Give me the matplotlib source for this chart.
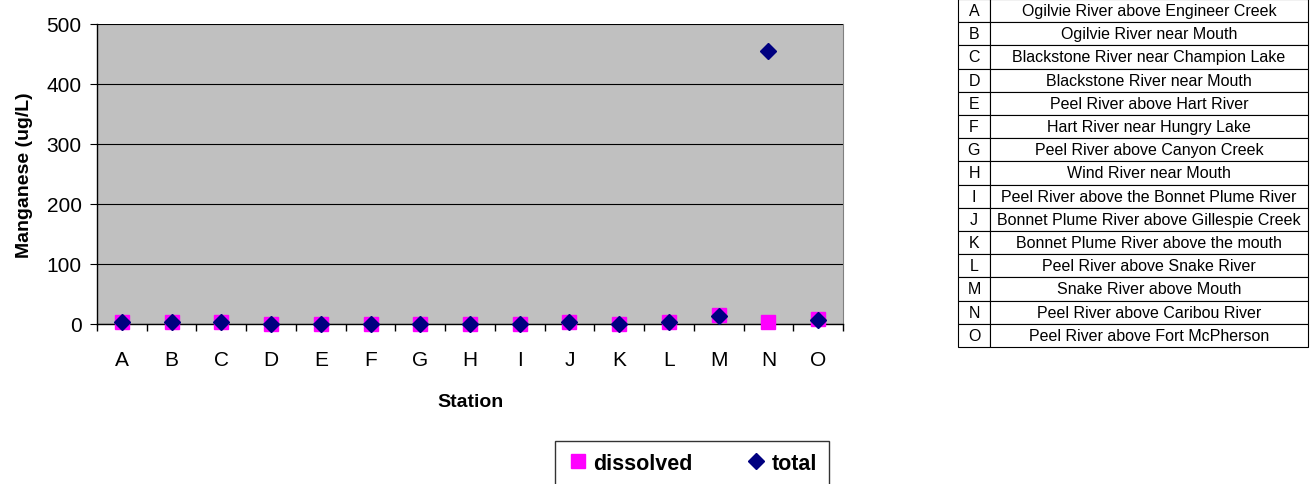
import matplotlib
matplotlib.use('Agg')
from matplotlib import pyplot as plt

plt.rcParams['font.family'] = ['Liberation Sans', 'DejaVu Sans']

stations = ['A', 'B', 'C', 'D', 'E', 'F', 'G', 'H', 'I', 'J', 'K', 'L', 'M', 'N', 'O']
dissolved = [4, 4, 4, 0.5, 0.5, 0.5, 0.5, 0.5, 0.5, 4, 0.5, 4, 15, 3, 8]
total = [3, 3, 3, 0.5, 0.5, 0.5, 0.5, 0.5, 0.5, 3, 0.5, 3, 14, 455, 7]
station_names = [
    'Ogilvie River above Engineer Creek',
    'Ogilvie River near Mouth',
    'Blackstone River near Champion Lake',
    'Blackstone River near Mouth',
    'Peel River above Hart River',
    'Hart River near Hungry Lake',
    'Peel River above Canyon Creek',
    'Wind River near Mouth',
    'Peel River above the Bonnet Plume River',
    'Bonnet Plume River above Gillespie Creek',
    'Bonnet Plume River above the mouth',
    'Peel River above Snake River',
    'Snake River above Mouth',
    'Peel River above Caribou River',
    'Peel River above Fort McPherson',
]

W, H = 1310, 485
fig = plt.figure(figsize=(W / 100, H / 100), dpi=100)
ax = fig.add_axes([97 / W, 1 - 325 / H, (843 - 97) / W, 300 / H])
ax.set_facecolor('#C0C0C0')

x = list(range(len(stations)))
ax.plot(x, dissolved, linestyle='none', marker='s', markersize=10.5,
        color='#FF00FF', label='dissolved', zorder=3, clip_on=False)
ax.plot(x, total, linestyle='none', marker='D', markersize=8,
        color='#000080', label='total', zorder=4, clip_on=False)

ax.set_xlim(-0.5, len(stations) - 0.5)
ax.set_ylim(0, 500)
ax.set_yticks(range(0, 501, 100))
ax.yaxis.grid(True, color='black', linewidth=0.8)
ax.set_axisbelow(True)
ax.set_xticks(x)
ax.set_xticklabels(stations)
ax.set_xticks([i - 0.5 for i in range(len(stations) + 1)], minor=True)
ax.tick_params(axis='x', which='major', length=0, labelsize=15, pad=19)
ax.tick_params(axis='x', which='minor', length=5, direction='out', width=1)
ax.tick_params(axis='y', length=5, direction='out', labelsize=15, pad=6)
ax.spines['top'].set_visible(False)
ax.spines['right'].set_color('#808080')
ax.spines['left'].set_linewidth(1)
ax.spines['bottom'].set_linewidth(1)

ax.set_xlabel('Station', fontsize=14, fontweight='bold', labelpad=17)
ax.set_ylabel('Manganese (ug/L)', fontsize=14, fontweight='bold', labelpad=10)

leg = fig.legend(loc='lower left', bbox_to_anchor=(544 / W, -0.025),
                 ncol=2, frameon=True, fancybox=False, edgecolor='black',
                 prop={'size': 15.5, 'weight': 'bold'}, handletextpad=0.15,
                 columnspacing=2.4, handlelength=1.1, borderpad=0.55)
leg.get_frame().set_linewidth(1)

tax = fig.add_axes([958 / W, 1 - 348 / H, 350 / W, 348 / H])
tax.axis('off')
rows = [[s, n] for s, n in zip(stations, station_names)]
table = tax.table(cellText=rows, cellLoc='center', bbox=[0, 0, 1, 1],
                  colWidths=[32, 318])
table.auto_set_font_size(False)
table.set_fontsize(11.5)
for cell in table.get_celld().values():
    cell.set_linewidth(0.8)

fig.savefig('out.png', dpi=100)
